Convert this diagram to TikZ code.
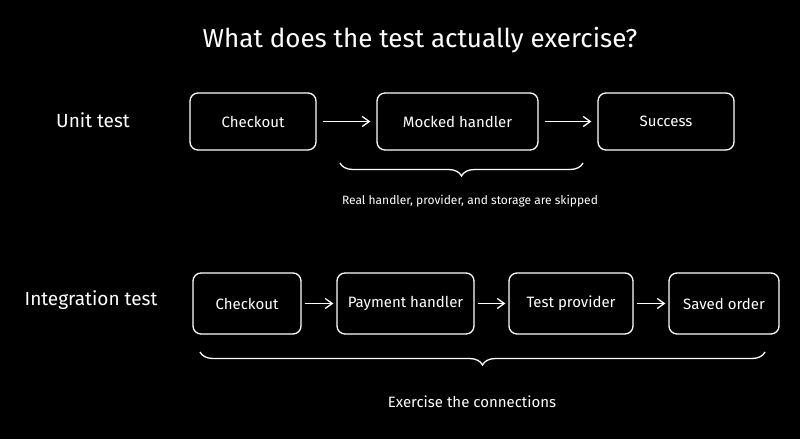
\documentclass[tikz,border=0pt]{standalone}
\usepackage{fontspec}
\setmainfont{Fira Sans}
\usetikzlibrary{decorations.pathreplacing,arrows.meta}
\begin{document}
\begin{tikzpicture}[x=1pt,y=-1pt,
  box/.style={draw=white,line width=1.3pt,rounded corners=8pt,text=white,font=\fontsize{15}{17}\selectfont,align=center},
  arr/.style={draw=white,line width=1.3pt,shorten <=6pt,shorten >=6pt,-{Straight Barb[length=7pt,width=10pt]}},
  br/.style={draw=white,line width=1.3pt,decorate,decoration={brace,mirror,amplitude=13pt}},
  lab/.style={text=white}]
\fill[black] (0,0) rectangle (800,439);
\node[lab,font=\fontsize{26}{30}\selectfont] (title) at (420,40) {What does the test actually exercise?};
\node[lab,font=\fontsize{19}{22}\selectfont] (ul) at (93,120) {Unit test};
\node[lab,font=\fontsize{19}{22}\selectfont] (il) at (91,300) {Integration test};
\node[box,minimum width=126pt,minimum height=57pt] (c1) at (253,121.5) {Checkout};
\node[box,minimum width=161pt,minimum height=57pt] (m1) at (457.5,121.5) {Mocked handler};
\node[box,minimum width=136pt,minimum height=57pt] (s1) at (666,121.5) {Success};
\draw[arr] (c1) -- (m1);
\draw[arr] (m1) -- (s1);
\coordinate (b1a) at (340,163); \coordinate (b1b) at (583,163);
\draw[br] (b1a) -- (b1b);
\node[lab,font=\fontsize{12}{14}\selectfont] (t1) at (470,201) {Real handler, provider, and storage are skipped};
\node[box,minimum width=108pt,minimum height=61pt] (c2) at (247,303.5) {Checkout};
\node[box,minimum width=137pt,minimum height=61pt] (p2) at (405.5,303.5) {Payment handler};
\node[box,minimum width=124pt,minimum height=61pt] (t2) at (571,303.5) {Test provider};
\node[box,minimum width=110pt,minimum height=61pt] (s2) at (724,303.5) {Saved order};
\draw[arr,shorten <=3pt,shorten >=3pt] (c2) -- (p2);
\draw[arr,shorten <=3pt,shorten >=3pt] (p2) -- (t2);
\draw[arr,shorten <=3pt,shorten >=3pt] (t2) -- (s2);
\coordinate (b2a) at (200,352); \coordinate (b2b) at (765,352);
\draw[br] (b2a) -- (b2b);
\node[lab,font=\fontsize{15}{17}\selectfont] (t3) at (472,402) {Exercise the connections};
\end{tikzpicture}
\end{document}
